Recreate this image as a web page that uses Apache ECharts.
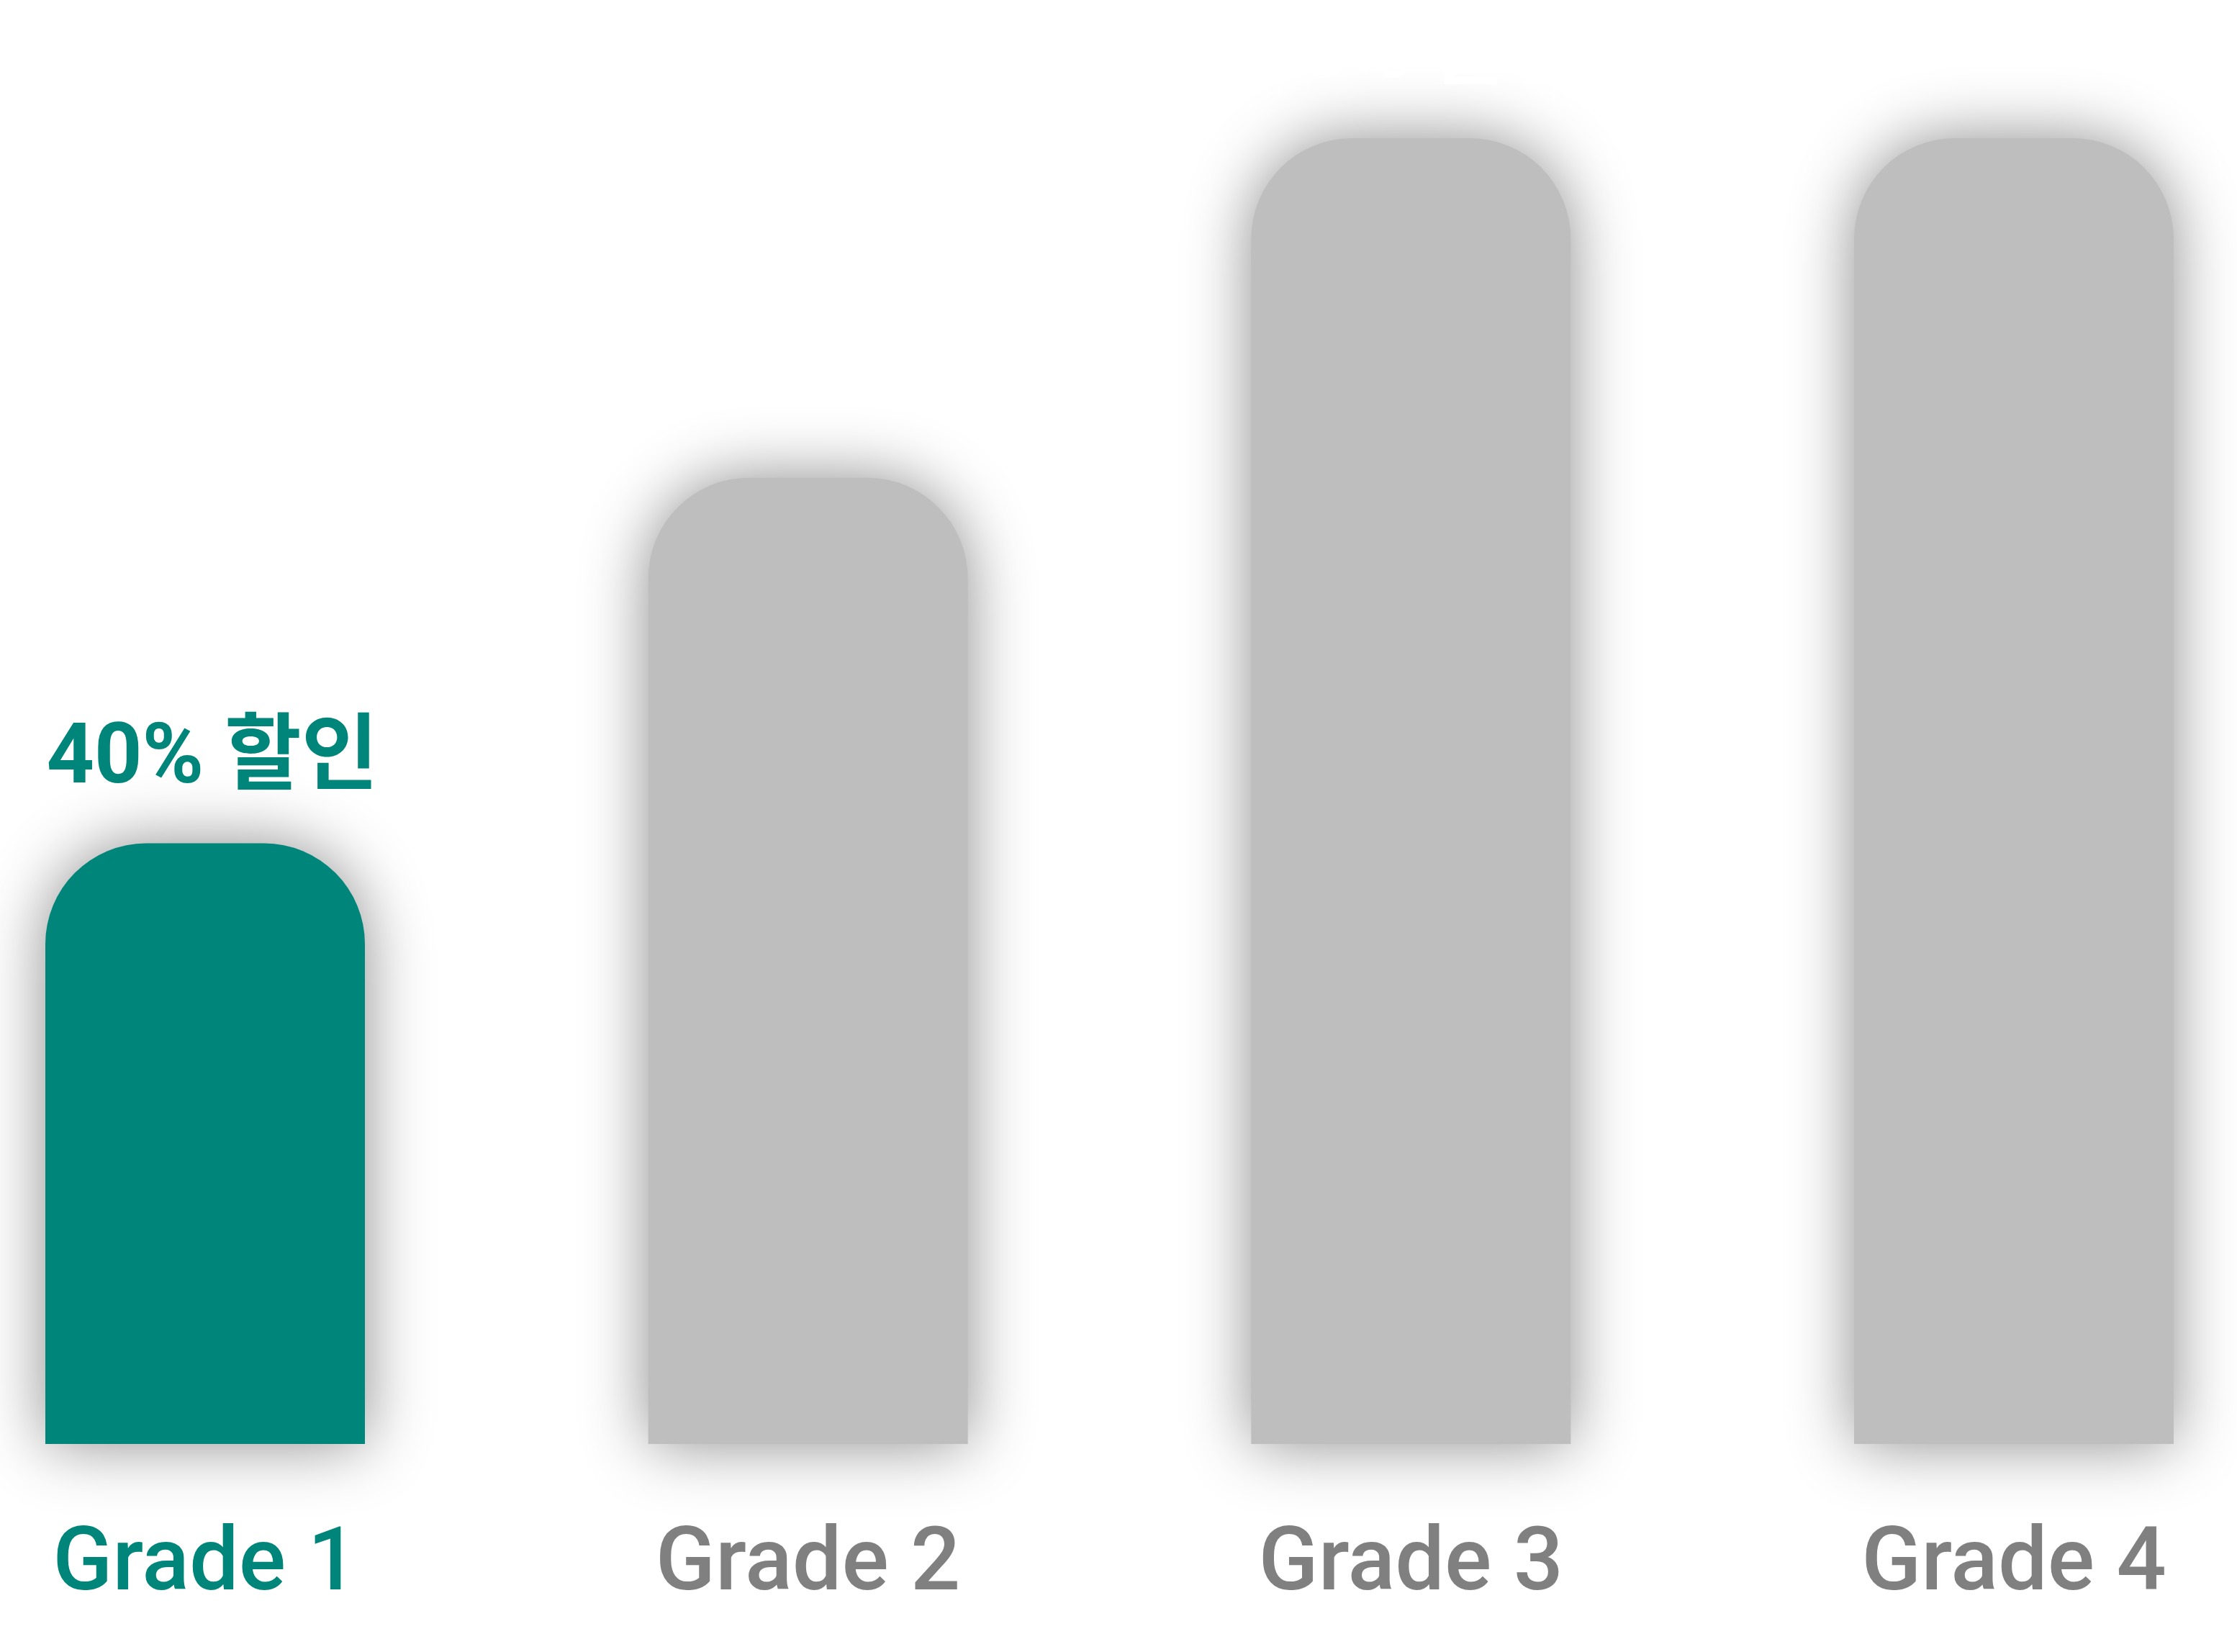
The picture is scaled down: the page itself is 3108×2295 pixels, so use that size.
<!DOCTYPE html>
<html>
<head>
<meta charset="utf-8">
<script src="https://cdn.jsdelivr.net/npm/echarts@6/dist/echarts.min.js"></script>
<style>
html,body{margin:0;padding:0;background:#ffffff;}
#chart{width:3108px;height:2295px;}
</style>
</head>
<body>
<div id="chart"></div>
<script>
const categories = ['Grade 1', 'Grade 2', 'Grade 3', 'Grade 4'];
const values = [46, 74, 100, 100];
const labels = ['40% 할인', '', '50% 할인', ''];
const highlightIndex = 0;

const TEAL = '#00857A';
const GRAY_BAR = '#BEBEBE';
const GRAY_TEXT = '#808080';
const FONT = "Roboto, 'Noto Sans CJK KR', sans-serif";

const chart = echarts.init(document.getElementById('chart'));

const data = values.map((v, i) => ({
  value: v,
  itemStyle: { color: i === highlightIndex ? TEAL : GRAY_BAR },
  label: {
    show: labels[i] !== '',
    formatter: labels[i],
    color: i === highlightIndex ? TEAL : '#ffffff'
  }
}));

chart.setOption({
  backgroundColor: '#ffffff',
  animation: false,
  grid: { left: 285, right: 310, top: 192, bottom: 289, containLabel: false },
  xAxis: {
    type: 'category',
    data: categories,
    boundaryGap: false,
    axisLine: { show: false },
    axisTick: { show: false },
    splitLine: { show: false },
    axisLabel: {
      margin: 110,
      fontFamily: FONT,
      fontSize: 122,
      fontWeight: 500,
      color: function (val, idx) { return idx === highlightIndex ? TEAL : GRAY_TEXT; }
    }
  },
  yAxis: {
    type: 'value',
    min: 0,
    max: 100,
    show: false,
    splitLine: { show: false }
  },
  series: [{
    type: 'bar',
    data: data,
    barWidth: 444,
    clip: false,
    itemStyle: {
      borderRadius: [140, 140, 0, 0],
      shadowBlur: 90,
      shadowColor: 'rgba(0,0,0,0.45)',
      shadowOffsetX: 0,
      shadowOffsetY: 0
    },
    label: {
      position: 'top',
      distance: 56,
      offset: [10, 0],
      fontFamily: FONT,
      fontSize: 116,
      fontWeight: 'bold'
    }
  }]
});
</script>
</body>
</html>
